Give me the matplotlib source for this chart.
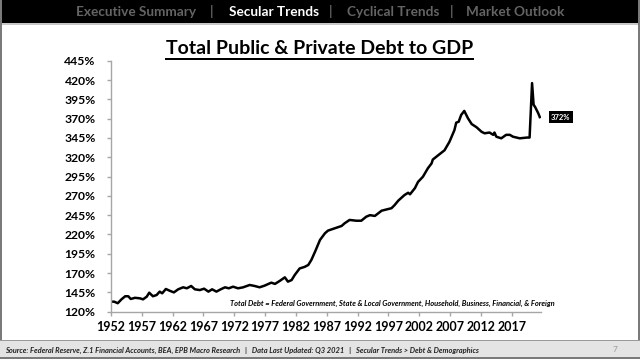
import matplotlib
matplotlib.use("Agg")
import matplotlib.pyplot as plt
from matplotlib.patches import Rectangle
from matplotlib.ticker import FuncFormatter

# Total credit market debt as % of GDP
years = [1952.0, 1952.5, 1953.1, 1953.7, 1954.3, 1954.8, 1955.2, 1955.9, 1956.7, 1957.2,
         1957.8, 1958.2, 1958.8, 1959.4, 1959.9, 1960.3, 1960.9, 1961.5, 1962.2, 1962.9,
         1963.7, 1964.3, 1965.0, 1965.6, 1966.4, 1967.1, 1967.8, 1968.4, 1969.1, 1969.8,
         1970.5, 1971.1, 1971.8, 1972.6, 1973.4, 1974.5, 1975.3, 1976.1, 1976.9, 1978.0,
         1978.6, 1979.4, 1980.2, 1980.7, 1981.3, 1981.8, 1982.6, 1983.4, 1984.0, 1984.5,
         1985.1, 1985.9, 1986.7, 1987.2, 1988.3, 1989.4, 1989.9, 1990.7, 1991.8, 1992.6,
         1993.4, 1994.0, 1994.8, 1995.9, 1997.5, 1998.0, 1998.6, 1999.6, 2000.2, 2000.5,
         2001.3, 2001.8, 2002.6, 2003.4, 2004.0, 2004.2, 2005.3, 2006.1, 2006.9, 2007.7,
         2008.0, 2008.4, 2008.8, 2009.3, 2009.9, 2010.5, 2011.3, 2012.1, 2012.6, 2013.4,
         2014.0, 2014.2, 2014.5, 2015.3, 2016.1, 2016.7, 2017.2, 2018.3, 2019.5, 2019.9,
         2020.3, 2020.55, 2020.8, 2021.05, 2021.3, 2021.55]
debt_pct = [133, 133, 131, 136, 140, 140, 136.5, 138, 137.3, 136,
            139.5, 144.6, 140, 141.6, 146, 143.8, 149.4, 147.2, 145, 149,
            151.6, 150.3, 153.3, 149, 148, 149.8, 146, 149, 146, 149,
            151.6, 150.3, 152.4, 150.3, 151.5, 154.6, 153.3, 151.6, 153.7, 157.6,
            156, 160, 164.5, 158.9, 161, 167.5, 176, 178, 180.5, 187,
            197.7, 212.9, 221.5, 225, 228, 231, 234.5, 238.8, 237.8, 237.8,
            243, 245, 244, 250.8, 254, 258, 263.8, 271, 274, 272,
            280, 288, 294.8, 305.7, 312, 317, 324, 329, 340, 355,
            364.8, 366, 374.7, 380, 370.5, 363, 358.8, 353, 351, 352,
            349, 352, 346.6, 344.5, 349, 349, 346.6, 344.5, 345.5, 345.5,
            416, 388, 385, 381, 377, 372]

year_ticks = list(range(1952, 2018, 5))
pct_ticks = list(range(120, 446, 25))
last_label = "372%"

W, H = 640, 359
fig = plt.figure(figsize=(6.4, 3.59), dpi=100)
fig.patch.set_facecolor("white")

def fx(px):
    return px / W

def fy(py):
    return 1 - py / H

# header bar and slide frame
fig.patches.append(Rectangle((0, fy(23)), 1, 23 / H, transform=fig.transFigure,
                             facecolor="black", edgecolor="none", zorder=0))
fig.patches.append(Rectangle((0, fy(24.5)), 1, 1.5 / H, transform=fig.transFigure,
                             facecolor="#c8c8c8", edgecolor="none", zorder=0))
fig.patches.append(Rectangle((0, 0), 2 / W, 1, transform=fig.transFigure,
                             facecolor="#7a7a7a", edgecolor="none", zorder=0))
fig.patches.append(Rectangle((1 - 2 / W, 0), 2 / W, 1, transform=fig.transFigure,
                             facecolor="#7a7a7a", edgecolor="none", zorder=0))
# footer band
fig.patches.append(Rectangle((0, 0), 1, 19 / H, transform=fig.transFigure,
                             facecolor="#e4e4e4", edgecolor="none", zorder=0))
fig.patches.append(Rectangle((0, fy(341)), 1, 1 / H, transform=fig.transFigure,
                             facecolor="#9a9a9a", edgecolor="none", zorder=0))
fig.patches.append(Rectangle((0, 0), 1, 2 / H, transform=fig.transFigure,
                             facecolor="#7a7a7a", edgecolor="none", zorder=0))

hdr = dict(fontsize=9.8, fontweight="bold", family="Lato", va="center")
fig.text(fx(136), fy(11.5), "Executive Summary", color="#646464", ha="center", **hdr)
fig.text(fx(212), fy(11.5), "|", color="#646464", ha="center", **hdr)
fig.text(fx(274), fy(11.5), "Secular Trends", color="white", ha="center", **hdr)
fig.text(fx(331), fy(11.5), "|", color="#646464", ha="center", **hdr)
fig.text(fx(393), fy(11.5), "Cyclical Trends", color="#646464", ha="center", **hdr)
fig.text(fx(452), fy(11.5), "|", color="#646464", ha="center", **hdr)
fig.text(fx(515), fy(11.5), "Market Outlook", color="#646464", ha="center", **hdr)

# title with underline
fig.text(0.5, fy(48), "Total Public & Private Debt to GDP", ha="center", va="center",
         fontsize=14, fontweight="bold", family="Lato", color="black")
fig.patches.append(Rectangle((fx(165), fy(59.5)), (474 - 165) / W, 1.3 / H,
                             transform=fig.transFigure, facecolor="black",
                             edgecolor="none"))

ax = fig.add_axes([fx(111), fy(311.7), (541 - 111) / W, (311.7 - 60.7) / H])
ax.plot(years, debt_pct, color="black", linewidth=1.8, solid_joinstyle="round")
ax.set_xlim(1952, 2021.75)
ax.set_ylim(120, 445)
ax.set_xticks(year_ticks)
ax.set_yticks(pct_ticks)
ax.yaxis.set_major_formatter(FuncFormatter(lambda v, p: "%d%%" % v))
for s in ["top", "right"]:
    ax.spines[s].set_visible(False)
for s in ["left", "bottom"]:
    ax.spines[s].set_color("#a6a6a6")
    ax.spines[s].set_linewidth(1.0)
ax.tick_params(axis="both", direction="out", length=3, color="#a6a6a6", width=1.0)
ax.tick_params(axis="y", pad=8)
ax.tick_params(axis="x", pad=4)
for lab in ax.get_xticklabels():
    lab.set_fontsize(9)
    lab.set_fontweight("bold")
    lab.set_family("Lato")
for lab in ax.get_yticklabels():
    lab.set_fontsize(8.7)
    lab.set_fontweight("bold")
    lab.set_family("Lato")

# last value label
ax.annotate(last_label, xy=(years[-1], debt_pct[-1]), xytext=(8, 0),
            textcoords="offset points", ha="left", va="center",
            fontsize=5.5, fontweight="bold", family="Lato", color="white",
            bbox=dict(boxstyle="square,pad=0.3", facecolor="black", edgecolor="none"))

fig.text(fx(555), fy(303), "Total Debt = Federal Government, State & Local Government, Household, "
         "Business, Financial, & Foreign", ha="right", va="center", fontsize=5.45,
         fontweight="bold", style="italic", family="Lato", color="black")

fig.text(fx(5), fy(350), "Source: Federal Reserve, Z.1 Financial Accounts, BEA, EPB Macro Research"
         "   |   Data Last Updated: Q3 2021   |   Secular Trends > Debt & Demographics",
         ha="left", va="center", fontsize=5.45, fontweight="bold", style="italic",
         family="Lato", color="#222222")
fig.text(fx(615), fy(350), "7", ha="center", va="center", fontsize=6,
         family="Lato", color="#9a9a9a")

fig.savefig("out.png", dpi=100)
